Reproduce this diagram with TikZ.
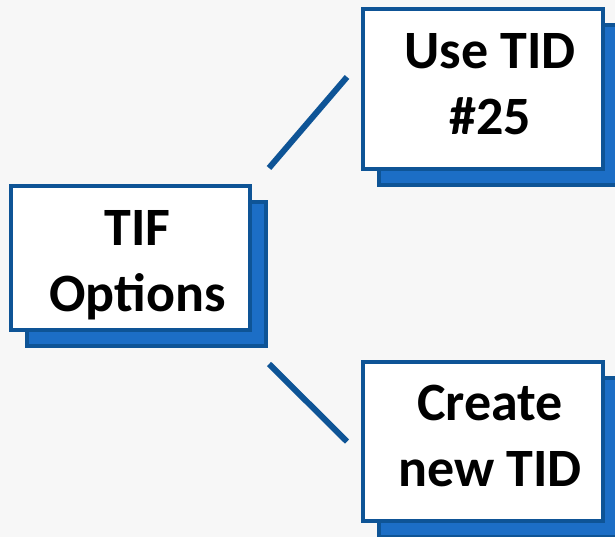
\documentclass[tikz,border=0pt]{standalone}
\usepackage{fontspec}
\setmainfont{Carlito}
\usetikzlibrary{shadows,calc}
\definecolor{bgcol}{RGB}{247,247,247}
\definecolor{edgeblue}{RGB}{14,84,150}
\definecolor{shadeblue}{RGB}{28,110,198}
\tikzset{
  optbox/.style={draw=edgeblue, line width=4pt, fill=white, rectangle,
    inner sep=0pt,
    general shadow={shadow xshift=16pt, shadow yshift=-16pt,
      fill=shadeblue, draw=edgeblue, line width=4pt}},
  opttext/.style={inner sep=0pt, align=center,
    font=\fontsize{54}{66}\selectfont\bfseries},
  link/.style={draw=edgeblue, line width=6pt}
}
\begin{document}
\begin{tikzpicture}[x=1pt,y=-1pt]
\fill[bgcol] (0,0) rectangle (615,537);
\useasboundingbox (0,0) rectangle (615,537);
\node[optbox, minimum width=239pt, minimum height=144pt] (tif) at (130.5,258) {};
\node[optbox, minimum width=240pt, minimum height=160pt] (use) at (483,89) {};
\node[optbox, minimum width=240pt, minimum height=159pt] (new) at (483,441.5) {};
\node[opttext] (tift) at (137.5,265) {TIF\\Options};
\node[opttext] (uset) at (490,84) {Use TID\\\#25};
\node[opttext] (newt) at (490,436) {Create\\new TID};
\coordinate (a1) at ($(tif.north east)+(17,-16)$);
\coordinate (a2) at ($(use.south west)+(-14,-94)$);
\coordinate (b1) at ($(tif.south east)+(17,32)$);
\coordinate (b2) at ($(new.west)+(-14,0)$);
\draw[link] (a1) -- (a2);
\draw[link] (b1) -- (b2);
\end{tikzpicture}
\end{document}
